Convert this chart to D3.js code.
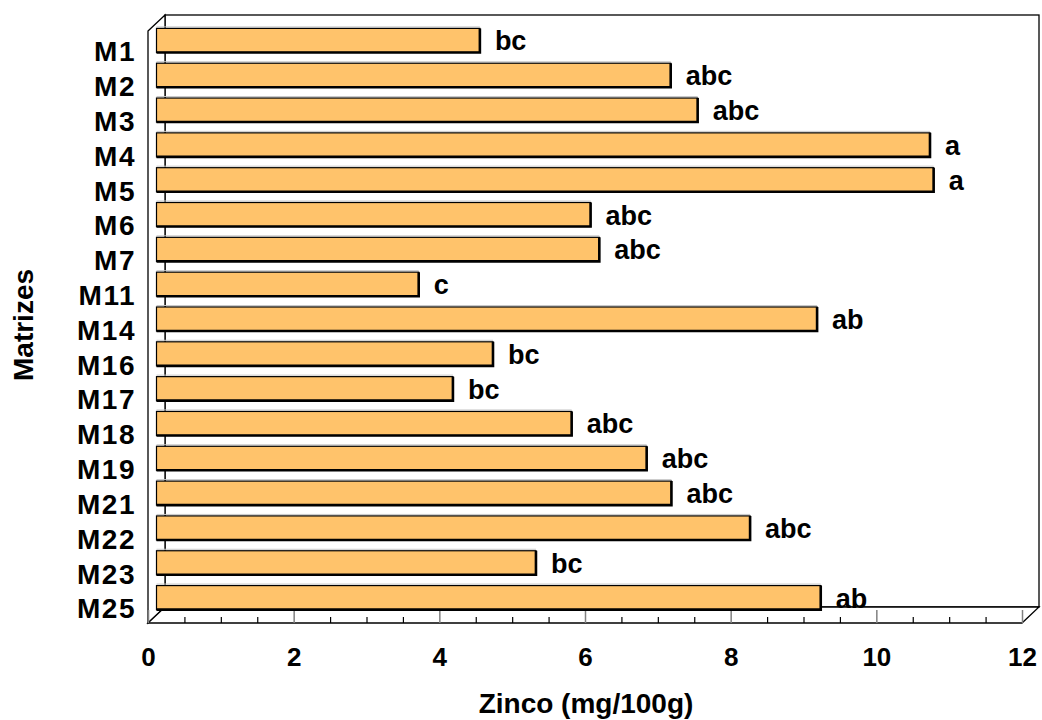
<!DOCTYPE html>
<html lang="pt">
<head>
    <meta charset="UTF-8">
    <title>Zinco por matriz</title>
    <script src="https://cdn.jsdelivr.net/npm/d3@7"></script>
    <style>
        body{ margin:0; background:#fff; }
        text{ font-family: "Liberation Sans", Arial, sans-serif; font-weight: bold; fill:#000; }
        .cat{ font-size: 28px; letter-spacing: 1.5px; }
        .val{ font-size: 27px; }
        .tick text{ font-size: 26px; }
        .title{ font-size: 28px; }
    </style>
</head>
<body>
<div class="container"></div>
<script>
    // data
    const categories = ["M1","M2","M3","M4","M5","M6","M7","M11","M14","M16","M17","M18","M19","M21","M22","M23","M25"];
    const zinco = [4.44, 7.06, 7.43, 10.62, 10.67, 5.96, 6.08, 3.60, 9.07, 4.62, 4.07, 5.70, 6.73, 7.07, 8.15, 5.21, 9.12];
    const letters = ["bc","abc","abc","a","a","abc","abc","c","ab","bc","bc","abc","abc","abc","abc","bc","ab"];
    const majorTicks = [0, 2, 4, 6, 8, 10, 12];

    ////////////////////////////////////////////////////////////////
    /*          Constants and containers                          */
    ////////////////////////////////////////////////////////////////
    const width = 1042, height = 720;
    const front = {left:148, right:1022, top:31, bottom:623};
    const depth = {dx:17, dy:-16};           // offset of the back plane
    const mid = {dx:depth.dx/2, dy:depth.dy/2};

    const svg = d3.select(".container").append("svg")
        .attr("width", width).attr("height", height)
        .attr("viewBox", `0 0 ${width} ${height}`);

    const x = d3.scaleLinear().domain([0, 12]).range([front.left, front.right]);
    const y = d3.scaleBand().domain(categories).range([front.top, front.bottom]).paddingInner(0.31).paddingOuter(0.155);

    ////////////////////////////////////////////////////////////////
    /*          3D box: back wall, left wall, floor               */
    ////////////////////////////////////////////////////////////////
    const box = svg.append("g").attr("fill", "#fff").attr("stroke", "#000").attr("stroke-width", 1.3);
    const bl = front.left + depth.dx, br = front.right + depth.dx,
          bt = front.top + depth.dy, bb = front.bottom + depth.dy;
    box.append("rect").attr("x", bl).attr("y", bt).attr("width", br - bl).attr("height", bb - bt);
    box.append("path").attr("d", `M${front.left},${front.top}L${bl},${bt}L${bl},${bb}L${front.left},${front.bottom}Z`);
    box.append("path").attr("d", `M${front.left},${front.bottom}L${bl},${bb}L${br},${bb}L${front.right},${front.bottom}Z`);

    // ticks on the floor edge
    const xAxisMinor = d3.axisBottom(x).tickValues(d3.range(0.5, 12, 0.5).filter(d => d % 2 !== 0))
        .tickSize(-6).tickFormat("");
    svg.append("g").attr("transform", `translate(0,${front.bottom})`).call(xAxisMinor)
        .call(g => g.select(".domain").remove())
        .call(g => g.selectAll("line").attr("stroke", "#000").attr("stroke-width", 1.2));

    const xAxis = d3.axisBottom(x).tickValues(majorTicks).tickSize(-13).tickPadding(25).tickFormat(d3.format("d"));
    svg.append("g").attr("transform", `translate(0,${front.bottom})`).call(xAxis)
        .call(g => g.select(".domain").remove())
        .call(g => g.selectAll("line").attr("stroke", "#808080").attr("stroke-width", 1.5))
        .call(g => g.selectAll("text").attr("font-family", null).attr("font-size", null).attr("fill", "#000"));

    ////////////////////////////////////////////////////////////////
    /*          Bars                                              */
    ////////////////////////////////////////////////////////////////
    const bars = svg.append("g").selectAll("g")
        .data(categories.map((c, i) => ({cat:c, value:zinco[i], letter:letters[i]})))
        .join("g")
        .attr("transform", `translate(${mid.dx},${mid.dy})`);

    // faint top face
    bars.append("line")
        .attr("x1", x(0)).attr("x2", d => x(d.value))
        .attr("y1", d => y(d.cat) - 1.5).attr("y2", d => y(d.cat) - 1.5)
        .attr("stroke", "#c8c8c8").attr("stroke-width", 1);

    bars.append("rect")
        .attr("x", x(0)).attr("y", d => y(d.cat))
        .attr("width", d => x(d.value) - x(0)).attr("height", y.bandwidth())
        .attr("fill", "#ffc36b").attr("stroke", "#000").attr("stroke-width", 1.2);

    // darker right and bottom edges
    bars.append("path")
        .attr("d", d => `M${x(d.value)},${y(d.cat)}L${x(d.value)},${y(d.cat) + y.bandwidth()}L${x(0)},${y(d.cat) + y.bandwidth()}`)
        .attr("fill", "none").attr("stroke", "#000").attr("stroke-width", 2.6);

    bars.append("text").attr("class", "val")
        .attr("x", d => x(d.value) + 15)
        .attr("y", d => y(d.cat) + y.bandwidth() / 2 + 10)
        .text(d => d.letter);

    ////////////////////////////////////////////////////////////////
    /*          Category labels and axis titles                   */
    ////////////////////////////////////////////////////////////////
    svg.append("g").selectAll("text")
        .data(categories)
        .join("text").attr("class", "cat")
        .attr("text-anchor", "end")
        .attr("x", 136)
        .attr("y", d => y(d) + y.bandwidth() / 2 + 12.8)
        .text(d => d);

    svg.append("text").attr("class", "title")
        .attr("text-anchor", "middle")
        .attr("x", 586).attr("y", 713)
        .text("Zinco (mg/100g)");

    svg.append("text").attr("class", "title")
        .attr("text-anchor", "middle")
        .attr("transform", "translate(33,325) rotate(-90)")
        .text("Matrizes");
</script>
</body>
</html>
